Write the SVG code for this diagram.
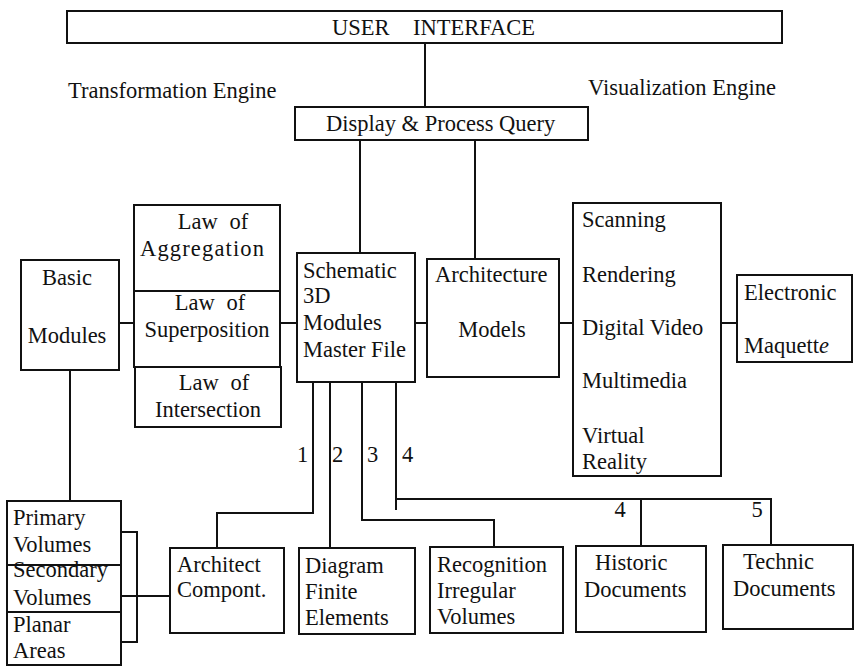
<svg xmlns="http://www.w3.org/2000/svg" width="854" height="666" viewBox="0 0 854 666">
  <style>
    .box { fill: #ffffff; stroke: #111111; stroke-width: 2; }
    .ln { fill: none; stroke: #111111; stroke-width: 2; }
    text { font-family: "Liberation Serif", "Times New Roman", serif; font-size: 22.5px; fill: #111111; }
    .c { text-anchor: middle; }
    .ws { word-spacing: 6px; }
  </style>
  <rect width="854" height="666" fill="#ffffff"/>

  <!-- connectors -->
  <g id="connectors">
    <line class="ln" x1="425" y1="43" x2="425" y2="107"/>
    <line class="ln" x1="360" y1="140" x2="360" y2="253"/>
    <line class="ln" x1="475" y1="140" x2="475" y2="259"/>
    <line class="ln" x1="119" y1="323" x2="134" y2="323"/>
    <line class="ln" x1="280" y1="323" x2="297" y2="323"/>
    <line class="ln" x1="415" y1="323" x2="427" y2="323"/>
    <line class="ln" x1="559" y1="323" x2="573" y2="323"/>
    <line class="ln" x1="721" y1="323" x2="737" y2="323"/>
    <line class="ln" x1="70" y1="370" x2="70" y2="501"/>
    <!-- volumes bracket -->
    <polyline class="ln" points="121,532 137,532 137,642 121,642"/>
    <line class="ln" x1="121" y1="596" x2="170" y2="596"/>
    <!-- numbered branches from the master file -->
    <polyline class="ln" points="313,382 313,513 217,513 217,548"/>
    <line class="ln" x1="330" y1="382" x2="330" y2="548"/>
    <polyline class="ln" points="362,382 362,520 494,520 494,547"/>
    <line class="ln" x1="396" y1="382" x2="396" y2="510"/>
    <polyline class="ln" points="396,499 771,499 771,545"/>
    <line class="ln" x1="641" y1="499" x2="641" y2="546"/>
    <text x="297" y="462">1</text>
    <text x="332" y="462">2</text>
    <text x="367" y="462">3</text>
    <text x="402" y="462">4</text>
    <text class="c" x="620" y="517">4</text>
    <text class="c" x="757" y="517">5</text>
  </g>

  <g id="user-interface">
    <rect class="box" x="67" y="11" width="715" height="32"/>
    <text x="332" y="35">USER</text>
    <text x="413" y="35">INTERFACE</text>
  </g>

  <g id="transformation-engine">
    <text x="68" y="98">Transformation Engine</text>
  </g>

  <g id="visualization-engine">
    <text x="588" y="95">Visualization Engine</text>
  </g>

  <g id="display-query">
    <rect class="box" x="295" y="107" width="293" height="33"/>
    <text x="326" y="131">Display &amp; Process Query</text>
  </g>

  <g id="basic-modules">
    <rect class="box" x="21" y="260" width="98" height="110"/>
    <text class="c" x="67" y="285">Basic</text>
    <text class="c" x="67" y="343">Modules</text>
  </g>

  <g id="laws">
    <rect class="box" x="134" y="205" width="146" height="86"/>
    <rect class="box" x="134" y="291" width="146" height="76"/>
    <rect class="box" x="135" y="367" width="146" height="60"/>
    <text class="c ws" x="213" y="229">Law of</text>
    <text class="c" x="202" y="256" textLength="124">Aggregation</text>
    <text class="c ws" x="210" y="310">Law of</text>
    <text class="c" x="207" y="337">Superposition</text>
    <text class="c ws" x="214" y="390">Law of</text>
    <text class="c" x="208" y="417">Intersection</text>
  </g>

  <g id="master-file">
    <rect class="box" x="297" y="253" width="118" height="129"/>
    <text x="303" y="278">Schematic</text>
    <text x="303" y="303">3D</text>
    <text x="303" y="330">Modules</text>
    <text x="303" y="357">Master File</text>
  </g>

  <g id="architecture-models">
    <rect class="box" x="427" y="259" width="132" height="118"/>
    <text x="435" y="282">Architecture</text>
    <text class="c" x="492" y="337">Models</text>
  </g>

  <g id="visualization-media">
    <rect class="box" x="573" y="203" width="148" height="273"/>
    <text x="582" y="227">Scanning</text>
    <text x="582" y="282">Rendering</text>
    <text x="582" y="335">Digital Video</text>
    <text x="582" y="388">Multimedia</text>
    <text x="582" y="443">Virtual</text>
    <text x="582" y="469">Reality</text>
  </g>

  <g id="electronic-maquette">
    <rect class="box" x="737" y="275" width="115" height="87"/>
    <text x="744" y="300">Electronic</text>
    <text x="744" y="353">Maquett<tspan font-style="italic">e</tspan></text>
  </g>

  <g id="volumes">
    <rect class="box" x="7" y="501" width="114" height="164"/>
    <line class="ln" x1="7" y1="565" x2="121" y2="565"/>
    <line class="ln" x1="7" y1="612" x2="121" y2="612"/>
    <text x="13" y="525">Primary</text>
    <text x="13" y="552">Volumes</text>
    <text x="13" y="577">Secondary</text>
    <text x="13" y="605">Volumes</text>
    <text x="13" y="632">Planar</text>
    <text x="13" y="658">Areas</text>
  </g>

  <g id="architect-compont">
    <rect class="box" x="170" y="548" width="114" height="85"/>
    <text x="177" y="572">Architect</text>
    <text x="177" y="597">Compont.</text>
  </g>

  <g id="diagram-finite">
    <rect class="box" x="299" y="548" width="116" height="86"/>
    <text x="305" y="573">Diagram</text>
    <text x="305" y="599">Finite</text>
    <text x="305" y="625">Elements</text>
  </g>

  <g id="recognition-irregular">
    <rect class="box" x="430" y="547" width="133" height="86"/>
    <text x="437" y="572">Recognition</text>
    <text x="437" y="598">Irregular</text>
    <text x="437" y="624">Volumes</text>
  </g>

  <g id="historic-documents">
    <rect class="box" x="576" y="546" width="130" height="86"/>
    <text x="595" y="570">Historic</text>
    <text x="584" y="597">Documents</text>
  </g>

  <g id="technic-documents">
    <rect class="box" x="723" y="545" width="130" height="84"/>
    <text x="743" y="569">Technic</text>
    <text x="733" y="596">Documents</text>
  </g>
</svg>
